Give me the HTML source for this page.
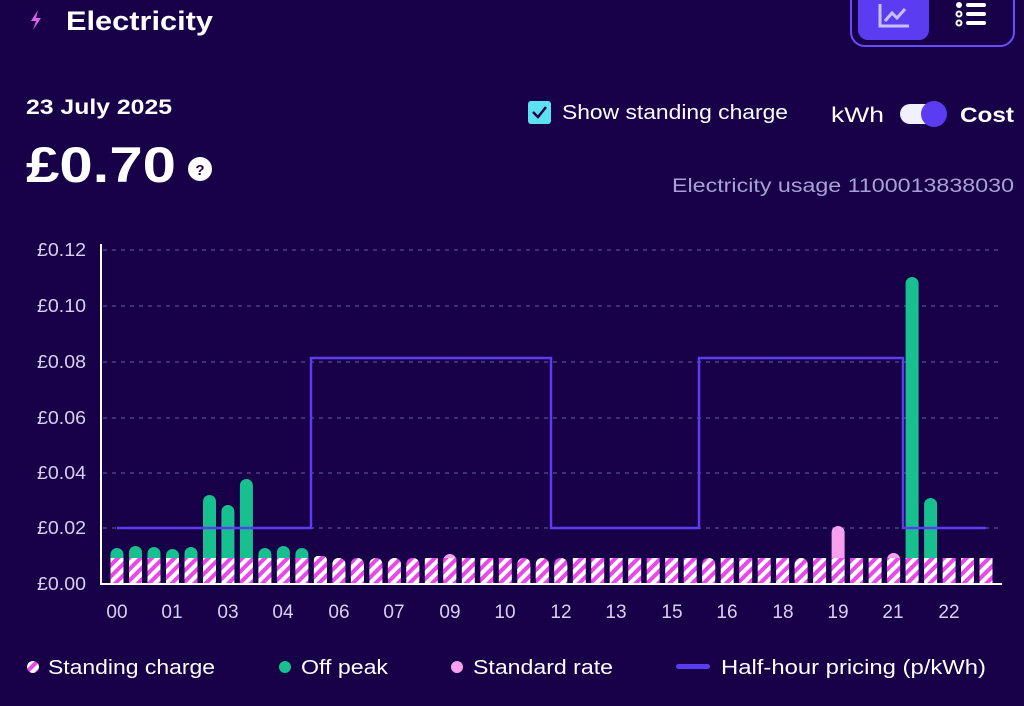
<!DOCTYPE html>
<html><head><meta charset="utf-8"><style>
html,body{margin:0;padding:0;background:#180048;width:1024px;height:706px;overflow:hidden;font-family:"Liberation Sans",sans-serif;color:#fff}
</style></head><body>
<svg width="1024" height="706" viewBox="0 0 1024 706" xmlns="http://www.w3.org/2000/svg" style="position:absolute;left:0;top:0" fill="#fff" font-family="Liberation Sans, sans-serif">
<defs>
<pattern id="st" patternUnits="userSpaceOnUse" width="8" height="8" patternTransform="rotate(45)">
<rect width="8" height="8" fill="#e848e8"/><rect width="4" height="8" fill="#ffffff"/>
</pattern>
</defs>
<rect width="1024" height="706" fill="#180048"/>
<!-- header -->
<path d="M38 10 L31 21 L36 21 L33 30 L41 18 L36 18 Z" fill="#e060f0"/>
<text x="66" y="30" font-size="27" font-weight="bold" fill="#fff" textLength="147" lengthAdjust="spacingAndGlyphs">Electricity</text>
<rect x="851" y="-14" width="163" height="60" rx="14" fill="none" stroke="#6a4cff" stroke-width="2"/>
<rect x="858" y="-10" width="71" height="50" rx="10" fill="#5b3cf0"/>
<path d="M880 4 V26 H909" fill="none" stroke="#c8c0ff" stroke-width="3"/>
<path d="M885 21 L892 13 L897 18 L905 9" fill="none" stroke="#c8c0ff" stroke-width="3"/>
<g fill="#fff"><circle cx="959" cy="5" r="3"/><rect x="966" y="3" width="20" height="4" rx="2"/></g>
<g fill="none" stroke="#fff" stroke-width="2"><circle cx="959" cy="14" r="2.5"/><circle cx="959" cy="23" r="2.5"/></g>
<g fill="#fff"><rect x="966" y="12" width="20" height="4" rx="2"/><rect x="966" y="21" width="20" height="4" rx="2"/></g>
<text x="26" y="114" font-size="21" font-weight="bold" textLength="146" lengthAdjust="spacingAndGlyphs">23 July 2025</text>
<text x="26" y="182" font-size="50" font-weight="bold" textLength="150" lengthAdjust="spacingAndGlyphs">£0.70</text>
<circle cx="200" cy="169" r="12" fill="#fff"/>
<text x="200" y="175" font-size="15" font-weight="bold" fill="#180048" text-anchor="middle">?</text>
<rect x="528" y="101" width="23" height="23" rx="3" fill="#5de0f0"/>
<path d="M533 112 L538 117 L546 107" fill="none" stroke="#180048" stroke-width="2.5"/>
<text x="562" y="119" font-size="20" textLength="226" lengthAdjust="spacingAndGlyphs">Show standing charge</text>
<text x="831" y="122" font-size="21" textLength="53" lengthAdjust="spacingAndGlyphs">kWh</text>
<rect x="900" y="104" width="46" height="20" rx="10" fill="#f0f0ff"/>
<circle cx="934" cy="114" r="13" fill="#5b3cf0"/>
<text x="960" y="122" font-size="21" font-weight="bold" textLength="54" lengthAdjust="spacingAndGlyphs">Cost</text>
<text x="672" y="192" font-size="19" fill="#a8a0d8" textLength="342" lengthAdjust="spacingAndGlyphs">Electricity usage 1100013838030</text>
<!-- grid -->
<g stroke="#6a60a0" stroke-width="1" stroke-dasharray="4,5">
<line x1="103" y1="250" x2="1002" y2="250"/><line x1="103" y1="306" x2="1002" y2="306"/>
<line x1="103" y1="362" x2="1002" y2="362"/><line x1="103" y1="418" x2="1002" y2="418"/>
<line x1="103" y1="473" x2="1002" y2="473"/><line x1="103" y1="528" x2="1002" y2="528"/>
</g>
<g font-size="18" fill="#d8d0f0">
<text x="37" y="256" textLength="49" lengthAdjust="spacingAndGlyphs">£0.12</text><text x="37" y="312" textLength="49" lengthAdjust="spacingAndGlyphs">£0.10</text><text x="37" y="368" textLength="49" lengthAdjust="spacingAndGlyphs">£0.08</text>
<text x="37" y="424" textLength="49" lengthAdjust="spacingAndGlyphs">£0.06</text><text x="37" y="479" textLength="49" lengthAdjust="spacingAndGlyphs">£0.04</text><text x="37" y="534" textLength="49" lengthAdjust="spacingAndGlyphs">£0.02</text><text x="37" y="590" textLength="49" lengthAdjust="spacingAndGlyphs">£0.00</text>
</g>
<!-- top bars -->
<g fill="#18c090">
<rect x="110.5" y="548" width="13" height="36" rx="6.5"/>
<rect x="129" y="546" width="13" height="38" rx="6.5"/>
<rect x="147.5" y="547" width="13" height="37" rx="6.5"/>
<rect x="166" y="549" width="13" height="35" rx="6.5"/>
<rect x="184.5" y="547" width="13" height="37" rx="6.5"/>
<rect x="203" y="495" width="13" height="89" rx="6.5"/>
<rect x="221.4" y="505" width="13" height="79" rx="6.5"/>
<rect x="239.9" y="479" width="13" height="105" rx="6.5"/>
<rect x="258.4" y="548" width="13" height="36" rx="6.5"/>
<rect x="276.9" y="546" width="13" height="38" rx="6.5"/>
<rect x="295.4" y="548" width="13" height="36" rx="6.5"/>
<rect x="905.6" y="277" width="13" height="307" rx="6.5"/>
<rect x="924.1" y="498" width="13" height="86" rx="6.5"/>
</g>
<g fill="#f8a0f0">
<rect x="831.6" y="526" width="13" height="58" rx="6.5"/>
<rect x="887.1" y="553" width="13" height="31" rx="6.5"/>
<rect x="443.3" y="554" width="13" height="30" rx="6.5"/>
</g>
<!-- standing charge -->
<g fill="url(#st)">
<rect x="110.5" y="558" width="13" height="26"/><rect x="129" y="558" width="13" height="26"/>
<rect x="147.5" y="558" width="13" height="26"/><rect x="166" y="558" width="13" height="26"/>
<rect x="184.5" y="558" width="13" height="26"/><rect x="203" y="558" width="13" height="26"/>
<rect x="221.4" y="558" width="13" height="26"/><rect x="239.9" y="558" width="13" height="26"/>
<rect x="258.4" y="558" width="13" height="26"/><rect x="276.9" y="558" width="13" height="26"/>
<rect x="295.4" y="558" width="13" height="26"/>
<rect x="313.9" y="556" width="13" height="28" rx="4"/><rect x="313.9" y="562" width="13" height="22"/>
<rect x="332.4" y="558" width="13" height="26" rx="6"/><rect x="332.4" y="566" width="13" height="18"/>
<rect x="350.9" y="558" width="13" height="26" rx="6"/><rect x="350.9" y="566" width="13" height="18"/>
<rect x="369.4" y="558" width="13" height="26" rx="6"/><rect x="369.4" y="566" width="13" height="18"/>
<rect x="387.9" y="558" width="13" height="26" rx="6"/><rect x="387.9" y="566" width="13" height="18"/>
<rect x="406.3" y="558" width="13" height="26" rx="6"/><rect x="406.3" y="566" width="13" height="18"/>
<rect x="424.8" y="558" width="13" height="26"/><rect x="443.3" y="558" width="13" height="26"/>
<rect x="461.8" y="558" width="13" height="26"/><rect x="480.3" y="558" width="13" height="26"/>
<rect x="498.8" y="558" width="13" height="26"/>
<rect x="517.3" y="558" width="13" height="26" rx="6"/><rect x="517.3" y="566" width="13" height="18"/>
<rect x="535.8" y="558" width="13" height="26" rx="6"/><rect x="535.8" y="566" width="13" height="18"/>
<rect x="554.3" y="558" width="13" height="26" rx="6"/><rect x="554.3" y="566" width="13" height="18"/>
<rect x="572.8" y="558" width="13" height="26"/><rect x="591.2" y="558" width="13" height="26"/>
<rect x="609.7" y="558" width="13" height="26"/><rect x="628.2" y="558" width="13" height="26"/>
<rect x="646.7" y="558" width="13" height="26"/><rect x="665.2" y="558" width="13" height="26"/>
<rect x="683.7" y="558" width="13" height="26"/>
<rect x="702.2" y="558" width="13" height="26" rx="6"/><rect x="702.2" y="566" width="13" height="18"/>
<rect x="720.7" y="558" width="13" height="26"/><rect x="739.2" y="558" width="13" height="26"/>
<rect x="757.7" y="558" width="13" height="26"/><rect x="776.1" y="558" width="13" height="26"/>
<rect x="794.6" y="558" width="13" height="26" rx="6"/><rect x="794.6" y="566" width="13" height="18"/>
<rect x="813.1" y="558" width="13" height="26"/><rect x="831.6" y="558" width="13" height="26"/>
<rect x="850.1" y="558" width="13" height="26"/><rect x="868.6" y="558" width="13" height="26"/>
<rect x="887.1" y="558" width="13" height="26"/><rect x="905.6" y="558" width="13" height="26"/>
<rect x="924.1" y="558" width="13" height="26"/><rect x="942.6" y="558" width="13" height="26"/>
<rect x="961" y="558" width="13" height="26"/><rect x="979.5" y="558" width="13" height="26"/>
</g>
<!-- pricing line -->
<path d="M117 528 H311 V358 H551 V528 H699 V358 H903 V528 H986" fill="none" stroke="#5b3cf0" stroke-width="2.5"/>
<!-- axes -->
<line x1="101" y1="244" x2="101" y2="585" stroke="#fff" stroke-width="2"/>
<line x1="100" y1="584" x2="1002" y2="584" stroke="#fff" stroke-width="2"/>
<g font-size="19" fill="#d8d0f0" text-anchor="middle">
<text x="117" y="618">00</text><text x="172" y="618">01</text><text x="228" y="618">03</text><text x="283" y="618">04</text>
<text x="339" y="618">06</text><text x="394" y="618">07</text><text x="450" y="618">09</text><text x="505" y="618">10</text>
<text x="561" y="618">12</text><text x="616" y="618">13</text><text x="672" y="618">15</text><text x="727" y="618">16</text>
<text x="783" y="618">18</text><text x="838" y="618">19</text><text x="893" y="618">21</text><text x="949" y="618">22</text>
</g>
<!-- legend -->
<circle cx="33" cy="667" r="6" fill="url(#st)"/>
<text x="48" y="674" font-size="20" textLength="167" lengthAdjust="spacingAndGlyphs">Standing charge</text>
<circle cx="285" cy="667" r="6" fill="#18c090"/>
<text x="301" y="674" font-size="20" textLength="87" lengthAdjust="spacingAndGlyphs">Off peak</text>
<circle cx="457" cy="667" r="6" fill="#f8a0f0"/>
<text x="473" y="674" font-size="20" textLength="140" lengthAdjust="spacingAndGlyphs">Standard rate</text>
<rect x="676" y="664" width="34" height="5" rx="2.5" fill="#5b3cf0"/>
<text x="721" y="674" font-size="20" textLength="265" lengthAdjust="spacingAndGlyphs">Half-hour pricing (p/kWh)</text>
</svg>
</body></html>
